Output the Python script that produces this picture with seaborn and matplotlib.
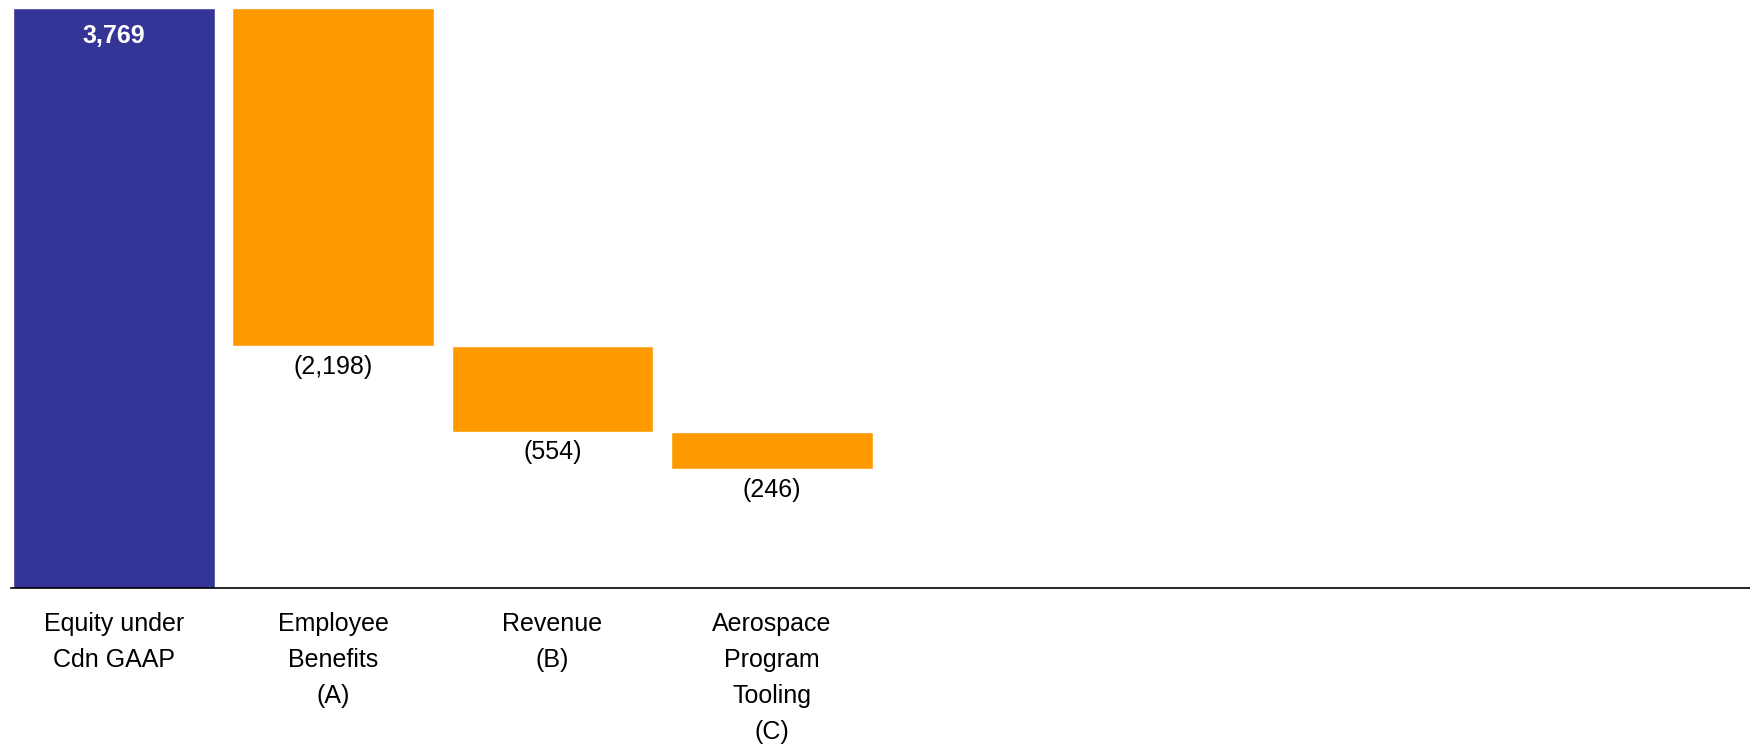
import matplotlib
matplotlib.use("Agg")
import matplotlib.pyplot as plt
import seaborn as sns
import numpy as np

# Equity bridge: Canadian GAAP equity and the adjustments that follow it
categories = ["Equity under\nCdn GAAP", "Employee\nBenefits\n(A)", "Revenue\n(B)",
              "Aerospace\nProgram\nTooling\n(C)"]
start_value = 3769
adjustments = [-2198, -554, -246]
value_labels = ["3,769", "(2,198)", "(554)", "(246)"]

NAVY = "#353597"
ORANGE = "#FF9900"

sns.set_theme(style="white")
plt.rcParams["font.family"] = ["Liberation Sans", "DejaVu Sans"]

fig = plt.figure(figsize=(17.5, 7.44), dpi=100)
ax = fig.add_axes([11 / 1750, 0.2097, 1 - 11 / 1750, 0.989 - 0.2097])

# running level after each adjustment
levels = start_value + np.cumsum(adjustments)
tops = np.concatenate([[start_value], levels[:-1]])
heights = tops - levels

sns.barplot(x=categories[:1], y=[start_value], order=categories, color=NAVY,
            saturation=1, width=0.92, ax=ax)
sns.barplot(x=categories[1:], y=list(heights), order=categories, color=ORANGE,
            saturation=1, width=0.92, bottom=list(levels), ax=ax)

ax.set_xlim(-0.469, 7.461)
ax.set_ylim(0, start_value)

# value annotations
ax.annotate(value_labels[0], (0, start_value), xytext=(0, -20),
            textcoords="offset points", ha="center", va="center",
            color="white", fontsize=18, fontweight="bold")
for i, (lvl, lab) in enumerate(zip(levels, value_labels[1:]), start=1):
    ax.annotate(lab, (i, lvl), xytext=(0, -6), textcoords="offset points",
                ha="center", va="top", fontsize=18, color="black")

for side in ["top", "right", "left"]:
    ax.spines[side].set_visible(False)
ax.spines["bottom"].set_color("black")
ax.spines["bottom"].set_linewidth(1.2)
ax.set_yticks([])
ax.set_xlabel("")
ax.set_ylabel("")
ax.tick_params(axis="x", length=0, pad=17.5, labelsize=18, labelcolor="black")
for t in ax.get_xticklabels():
    t.set_linespacing(1.63)
    t.set_verticalalignment("top")

fig.savefig("out.png", dpi=100, facecolor="white")
